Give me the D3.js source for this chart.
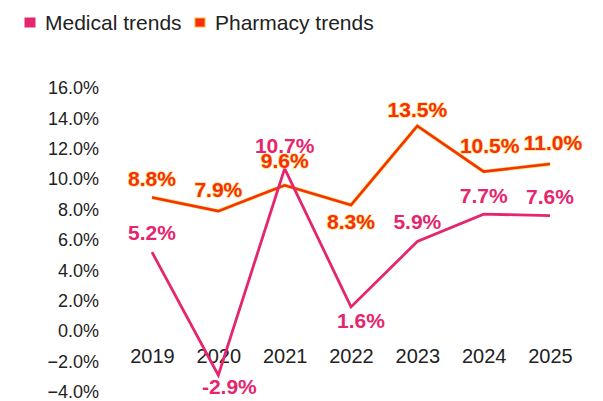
<!DOCTYPE html>
<html>
<head>
<meta charset="utf-8">
<script src="https://cdn.jsdelivr.net/npm/d3@7"></script>
<style>
  body { margin: 0; background: #fff; }
  svg { font-family: "Liberation Sans", Arial, sans-serif; }
</style>
</head>
<body>
<div id="chart"></div>
<script>
const years = ['2019', '2020', '2021', '2022', '2023', '2024', '2025'];
const medical = [5.2, -2.9, 10.7, 1.6, 5.9, 7.7, 7.6];
const pharmacy = [8.8, 7.9, 9.6, 8.3, 13.5, 10.5, 11.0];
const yTicks = [-4, -2, 0, 2, 4, 6, 8, 10, 12, 14, 16];

// label nudges (dx, dy) relative to each point
const medOffsets = [[0, -20], [11, 11], [0, -23], [10, 14], [0, -20], [0, -19], [0, -19]];
const pharmOffsets = [[0, -19], [0, -22], [0, -25], [0, 16], [0, -17], [6, -26], [3, -22]];

const medColor = '#e5266e';
const pharmColor = '#f5300e';

const svg = d3.select('#chart')
    .append('svg')
    .attr('width', 603)
    .attr('height', 401);

const x = d3.scalePoint()
    .domain(years)
    .range([152, 550]);

const y = d3.scaleLinear()
    .domain([-4, 16])
    .range([392, 88]);

// y axis
const yAxis = svg.append('g')
    .attr('transform', 'translate(99,0)')
    .call(d3.axisLeft(y).tickValues(yTicks).tickSize(0).tickPadding(0)
        .tickFormat(d => d3.format('.1f')(d) + '%'));
yAxis.select('.domain').remove();
yAxis.selectAll('text')
    .attr('font-size', 18)
    .attr('font-family', '"Liberation Sans", Arial, sans-serif')
    .attr('fill', '#222');

// x axis at zero
const xAxis = svg.append('g')
    .attr('transform', `translate(0,${y(0)})`)
    .call(d3.axisBottom(x).tickSize(0).tickPadding(18));
xAxis.select('.domain').remove();
xAxis.selectAll('text')
    .attr('font-size', 20)
    .attr('font-family', '"Liberation Sans", Arial, sans-serif')
    .attr('fill', '#222');

const line = d3.line()
    .x((d, i) => x(years[i]))
    .y(d => y(d));

// pharmacy line with thin yellow edge
svg.append('path')
    .datum(pharmacy)
    .attr('d', line)
    .attr('fill', 'none')
    .attr('stroke', '#ffd84a')
    .attr('stroke-width', 3.8);
svg.append('path')
    .datum(pharmacy)
    .attr('d', line)
    .attr('fill', 'none')
    .attr('stroke', pharmColor)
    .attr('stroke-width', 2.6);

svg.append('path')
    .datum(medical)
    .attr('d', line)
    .attr('fill', 'none')
    .attr('stroke', medColor)
    .attr('stroke-width', 2.8);

function labels(values, offsets, color, halo) {
    svg.append('g')
        .selectAll('text')
        .data(values)
        .enter()
        .append('text')
        .attr('x', (d, i) => x(years[i]) + offsets[i][0])
        .attr('y', (d, i) => y(d) + offsets[i][1])
        .attr('dy', '0.36em')
        .attr('text-anchor', 'middle')
        .attr('font-size', 21)
        .attr('font-weight', 'bold')
        .attr('fill', color)
        .attr('stroke', halo)
        .attr('stroke-width', halo === 'none' ? 0 : 1.6)
        .attr('stroke-opacity', 0.7)
        .style('paint-order', 'stroke')
        .text(d => d.toFixed(1) + '%');
}
labels(pharmacy, pharmOffsets, pharmColor, '#ffd84a');
labels(medical, medOffsets, medColor, 'none');

// legend
const legendItems = [
    { name: 'Medical trends', color: medColor, edge: medColor, x: 25 },
    { name: 'Pharmacy trends', color: pharmColor, edge: '#ffb030', x: 195 }
];
const legend = svg.append('g');
legendItems.forEach(item => {
    legend.append('rect')
        .attr('x', item.x)
        .attr('y', 18)
        .attr('width', 10)
        .attr('height', 9)
        .attr('fill', item.color)
        .attr('stroke', item.edge)
        .attr('stroke-width', 1);
    legend.append('text')
        .attr('x', item.x + 20)
        .attr('y', 22)
        .attr('dy', '0.36em')
        .attr('font-size', 21)
        .attr('fill', '#222')
        .text(item.name);
});
</script>
</body>
</html>
